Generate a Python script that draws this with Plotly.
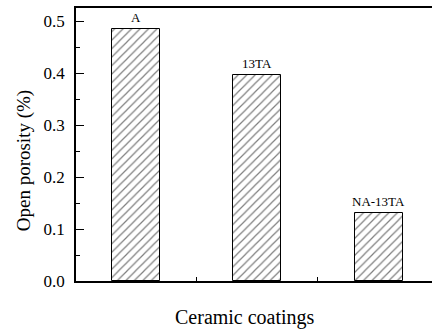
import plotly.graph_objects as go

categories = ["A", "13TA", "NA-13TA"]
porosity = [0.484, 0.396, 0.130]
y_ticks = [0.0, 0.1, 0.2, 0.3, 0.4, 0.5]
y_tick_labels = ["0.0", "0.1", "0.2", "0.3", "0.4", "0.5"]

xpos = list(range(len(categories)))
serif = "Liberation Serif, Times New Roman, serif"

fig = go.Figure()
fig.add_trace(go.Bar(
    x=xpos, y=porosity, width=0.395,
    marker=dict(color="white", line=dict(color="black", width=1),
                pattern=dict(shape="/", size=6, solidity=0.2, fgcolor="black", bgcolor="white")),
    showlegend=False, hoverinfo="skip",
))

for xi, cat, v in zip(xpos, categories, porosity):
    fig.add_annotation(x=xi, y=v, text=cat, showarrow=False, yshift=12,
                       font=dict(family=serif, size=13, color="black"))

fig.add_annotation(xref="paper", yref="paper", x=-0.145, y=0.44, xanchor="center", text="Open porosity (%)",
                   textangle=-90, showarrow=False, font=dict(family=serif, size=19, color="black"))
fig.add_annotation(xref="paper", yref="paper", x=0.476, y=-0.135, yanchor="middle",
                   text="Ceramic coatings", showarrow=False,
                   font=dict(family=serif, size=20, color="black"))

fig.update_xaxes(range=[-0.49, 2.44], showline=True, linecolor="black", linewidth=1.5, mirror=True,
                 tickvals=[0.5, 1.5], ticktext=["", ""], ticks="inside", ticklen=4,
                 tickcolor="black", showgrid=False, zeroline=False)
fig.update_yaxes(range=[0, 0.525], showline=True, linecolor="black", linewidth=1.5,
                 tickvals=y_ticks, ticktext=y_tick_labels, ticks="inside", ticklen=8,
                 tickcolor="black", showgrid=False, zeroline=False,
                 minor=dict(dtick=0.05, ticks="inside", ticklen=4, tickcolor="black"),
                 tickfont=dict(family=serif, size=17, color="black"), ticklabelstandoff=6)

fig.update_layout(width=432, height=330, margin=dict(l=76, r=0, t=8, b=49),
                  plot_bgcolor="white", paper_bgcolor="white", bargap=0)
fig.write_html("out.html")
